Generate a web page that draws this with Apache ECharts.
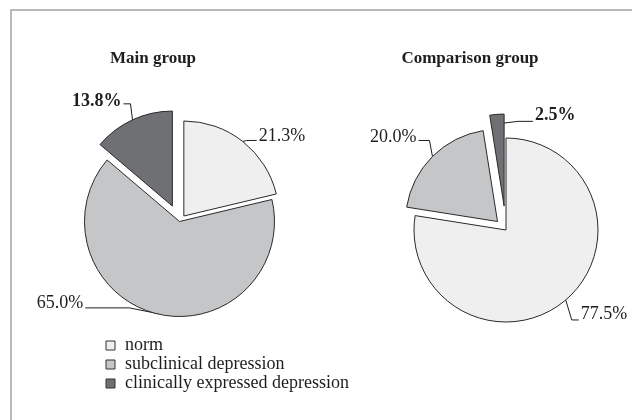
<!DOCTYPE html>
<html><head><meta charset="utf-8">
<script src="https://cdn.jsdelivr.net/npm/echarts@6/dist/echarts.min.js"></script>
<style>html,body{margin:0;padding:0;background:#fff}#c{width:632px;height:420px}</style>
</head><body><div id="c"></div>
<script>
// ---- data ----
const categories = ['norm', 'subclinical depression', 'clinically expressed depression'];
const groupTitles = ['Main group', 'Comparison group'];
const mainGroup = [21.3, 65.0, 13.8];
const comparisonGroup = [77.5, 20.0, 2.5];

// ---- style ----
const colors = ['#efefef', '#c5c6c8', '#6f7073'];
const FONT = '"Liberation Serif", "Times New Roman", serif';
const TEXT = '#1e1e1e';
const EDGE = '#2a2a2a';

const pies = [
  { values: mainGroup, title: groupTitles[0], titleX: 153, center: [179.5, 221.5], r: 95, explode: [7, 0, 17],
    labels: [
      { start: [0, 0], d1: [4, -1], d2: 10, align: 'left', dy: -4 },
      { start: [2, 0], d1: [-30, -6], d2: -44, align: 'right', dy: -5 },
      { start: [0, 0], d1: [-2, -16], d2: -7, align: 'right', dy: -2 }
    ] },
  { values: comparisonGroup, title: groupTitles[1], titleX: 470, center: [506, 230], r: 92, explode: [0, 12, 24],
    labels: [
      { start: [0, 0], d1: [6, 20], d2: 7, align: 'left', dy: -6 },
      { start: [0, 0], d1: [-3, -16], d2: -11, align: 'right', dy: -3 },
      { start: [5, 9], d1: [16, -2], d2: 15, align: 'left', dy: -6 }
    ] }
];

const series = [];
const titles = [];
pies.forEach(function (p) {
  const total = p.values.reduce(function (a, b) { return a + b; }, 0);
  let acc = 0;
  titles.push({
    text: p.title, left: p.titleX, top: 50, textAlign: 'center', padding: 0,
    textStyle: { fontFamily: FONT, fontSize: 17, fontWeight: 'bold', color: TEXT }
  });
  p.values.forEach(function (v, i) {
    const mid = 2 * Math.PI * (acc + v / 2) / total;
    acc += v;
    const sx = Math.sin(mid), sy = -Math.cos(mid);
    const c = [p.center[0] + p.explode[i] * sx, p.center[1] + p.explode[i] * sy];
    const edge = [c[0] + p.r * sx, c[1] + p.r * sy];
    const L = p.labels[i];
    series.push({
      type: 'pie',
      center: c,
      radius: p.r,
      startAngle: 90,
      clockwise: true,
      silent: true,
      animation: false,
      avoidLabelOverlap: false,
      emphasis: { disabled: true },
      label: {
        formatter: function (d) { return d.value.toFixed(1) + '%'; },
        fontFamily: FONT, fontSize: 18, color: TEXT,
        fontWeight: i === 2 ? 'bold' : 'normal'
      },
      labelLine: { length: 5, length2: 5, lineStyle: { color: TEXT, width: 1 } },
      labelLayout: function (params) {
        if (params.dataIndex !== i) return {};
        const p0 = [edge[0] + L.start[0], edge[1] + L.start[1]];
        const p1 = [p0[0] + L.d1[0], p0[1] + L.d1[1]];
        const p2 = [p1[0] + L.d2, p1[1]];
        return {
          x: p2[0] + (L.align === 'left' ? 2 : -2),
          y: p2[1] + L.dy,
          align: L.align,
          verticalAlign: 'middle',
          labelLinePoints: [p0, p1, p2]
        };
      },
      data: p.values.map(function (val, j) {
        const on = j === i;
        return {
          name: categories[j],
          value: val,
          itemStyle: on ? { color: colors[j], borderColor: EDGE, borderWidth: 1 }
                        : { color: 'rgba(0,0,0,0)', borderWidth: 0 },
          label: { show: on },
          labelLine: { show: on }
        };
      })
    });
  });
});

const chart = echarts.init(document.getElementById('c'), null, { renderer: 'canvas' });
chart.setOption({
  backgroundColor: '#ffffff',
  animation: false,
  title: titles,
  legend: {
    orient: 'vertical', left: 105.5, top: 336, padding: 0,
    icon: 'rect', itemWidth: 9, itemHeight: 9, itemGap: 0,
    selectedMode: false,
    textStyle: { fontFamily: FONT, fontSize: 18, color: TEXT, lineHeight: 19, padding: [0, 0, 0, 5] },
    data: categories.map(function (n, i) {
      return { name: n, itemStyle: { color: colors[i], borderColor: '#333', borderWidth: 1 } };
    })
  },
  graphic: [{
    type: 'rect', silent: true, z: -1,
    shape: { x: 11, y: 10, width: 660, height: 440 },
    style: { fill: 'none', stroke: '#a3a3a3', lineWidth: 1.5 }
  }],
  series: series
});
</script>
</body></html>
